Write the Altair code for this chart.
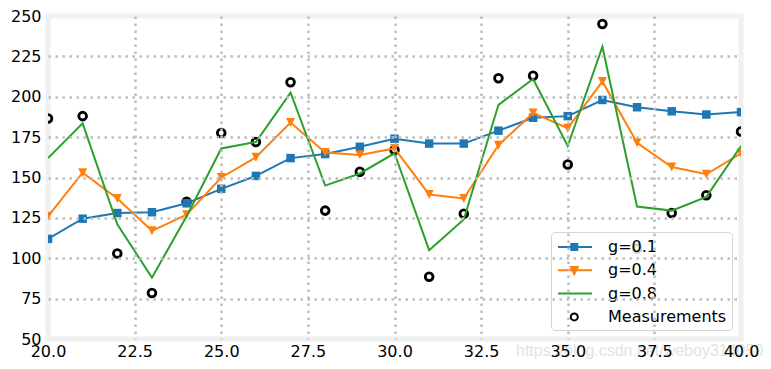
import altair as alt
import pandas as pd

# ---- data ----
xs = [20, 21, 22, 23, 24, 25, 26, 27, 28, 29, 30, 31, 32, 33, 34, 35, 36, 37, 38, 39, 40]
measurements = [186.5, 188, 103, 78.5, 135, 177.5, 172, 209, 129.5, 153.5, 167, 88.5,
                127.5, 211.5, 213, 158, 245, 106, 128, 139, 178.5]
g01 = [112, 124.5, 128, 128.5, 134, 143, 151, 162, 164.5, 169, 174, 171, 171, 179,
       187, 188, 198, 193.5, 191, 189, 190.5]
g04 = [126, 153, 137, 117, 127, 150, 162.5, 184, 165.5, 164, 168, 139.5, 137, 170,
       190, 180.5, 209.5, 171.5, 156.5, 152, 165]
g08 = [162, 183.5, 121, 88, 126, 168, 172, 202.5, 145, 152.5, 165, 105, 124, 195,
       211, 169.5, 231, 132, 129.5, 138, 169.5]

series_names = ["g=0.1", "g=0.4", "g=0.8", "Measurements"]
x_ticks = [20, 22.5, 25, 27.5, 30, 32.5, 35, 37.5, 40]
y_ticks = [50, 75, 100, 125, 150, 175, 200, 225, 250]
watermark = "https://blog.csdn.net/weboy314050"

BLUE, ORANGE, GREEN = "#1f77b4", "#ff7f0e", "#2ca02c"

df = pd.DataFrame({"x": xs, "meas": measurements, "g01": g01, "g04": g04, "g08": g08})

W, H = 693, 323

xsc = alt.Scale(domain=[20, 40], nice=False, zero=False)
ysc = alt.Scale(domain=[50, 250], nice=False, zero=False)

x_axis = alt.Axis(
    values=x_ticks, format=".1f", title=None, labelFlush=False,
    labelPadding=4, zindex=1,
    gridOpacity={"condition": {"test": "datum.value <= 20 || datum.value >= 40", "value": 0}, "value": 1},
)
y_axis = alt.Axis(
    values=y_ticks, format="d", title=None, labelFlush=False,
    labelPadding=7, zindex=1,
    gridOpacity={"condition": {"test": "datum.value <= 50 || datum.value >= 250", "value": 0}, "value": 1},
)

X = alt.X("x:Q", scale=xsc, axis=x_axis)


def Y(field):
    return alt.Y(f"{field}:Q", scale=ysc, axis=y_axis)


base = alt.Chart(df)

meas_layer = base.mark_point(
    shape="circle", filled=False, color="black", size=60, strokeWidth=2.8,
    opacity=1, clip=True,
).encode(x=X, y=Y("meas"))

line01 = base.mark_line(color=BLUE, strokeWidth=2, clip=True).encode(x=X, y=Y("g01"))
pts01 = base.mark_point(shape="square", filled=True, color=BLUE, size=72, opacity=1,
                        clip=True).encode(x=X, y=Y("g01"))
line04 = base.mark_line(color=ORANGE, strokeWidth=2, clip=True).encode(x=X, y=Y("g04"))
pts04 = base.mark_point(shape="M-1,-1L1,-1L0,1Z", filled=True, color=ORANGE, size=80,
                        opacity=1, clip=True).encode(x=X, y=Y("g04"))
line08 = base.mark_line(color=GREEN, strokeWidth=2, clip=True).encode(x=X, y=Y("g08"))

# ---- legend (symbols: line + marker drawn as custom paths) ----
legend_paths = [
    "M-0.89,0L2.89,0M0.59,-0.33L1.25,-0.33L1.25,0.33L0.59,0.33Z",
    "M-0.89,0L2.89,0M0.54,-0.36L1.3,-0.36L0.92,0.42Z",
    "M-0.89,0L2.89,0",
    "M1.31,0A0.39,0.39 0 1,1 0.53,0A0.39,0.39 0 1,1 1.31,0Z",
]
legend_fills = [BLUE, ORANGE, GREEN, "transparent"]
legend_strokes = [BLUE, ORANGE, GREEN, "black"]

leg = alt.Legend(
    title=None, orient="none", legendX=503, legendY=216,
    symbolSize=324, symbolStrokeWidth=2,
    symbolFillColor="transparent", symbolStrokeColor="black",
    labelFont="DejaVu Sans", labelFontSize=16, labelColor="black",
    labelOffset=32, padding=5, rowPadding=5.3,
    fillColor="rgba(255,255,255,0.8)", strokeColor="#d5d5d5", cornerRadius=4,
)

legend_df = pd.DataFrame({"series": series_names})
legend_layer = alt.Chart(legend_df).transform_filter("false").mark_point(
    filled=True, strokeWidth=2, opacity=1
).encode(
    shape=alt.Shape("series:N", scale=alt.Scale(domain=series_names, range=legend_paths), legend=leg),
    fill=alt.Fill("series:N", scale=alt.Scale(domain=series_names, range=legend_fills), legend=leg),
    stroke=alt.Stroke("series:N", scale=alt.Scale(domain=series_names, range=legend_strokes), legend=leg),
)

wm_layer = alt.Chart(pd.DataFrame({"t": [watermark]})).mark_text(
    align="left", baseline="middle", font="Liberation Sans", fontSize=16,
    color="#e3e3e3", clip=False,
).encode(x=alt.value(468), y=alt.value(335), text="t:N")

chart = alt.layer(
    wm_layer, meas_layer, line01, pts01, line04, pts04, line08, legend_layer
).properties(
    width=W, height=H,
    background="white",
    autosize=alt.AutoSizeParams(type="none"),
    padding={"left": 40, "top": 8, "right": 22, "bottom": 22},
).configure_view(
    stroke="#f0f0f0", strokeWidth=5, fill="white"
).configure_axis(
    domain=False, ticks=False, tickSize=0,
    labelFont="DejaVu Sans", labelFontSize=16, labelColor="black",
    grid=True, gridColor="#bdbdbd", gridWidth=2.5, gridDash=[2.5, 4.5],
)

chart.save("out.html", embed_options={"renderer": "svg", "actions": False})
